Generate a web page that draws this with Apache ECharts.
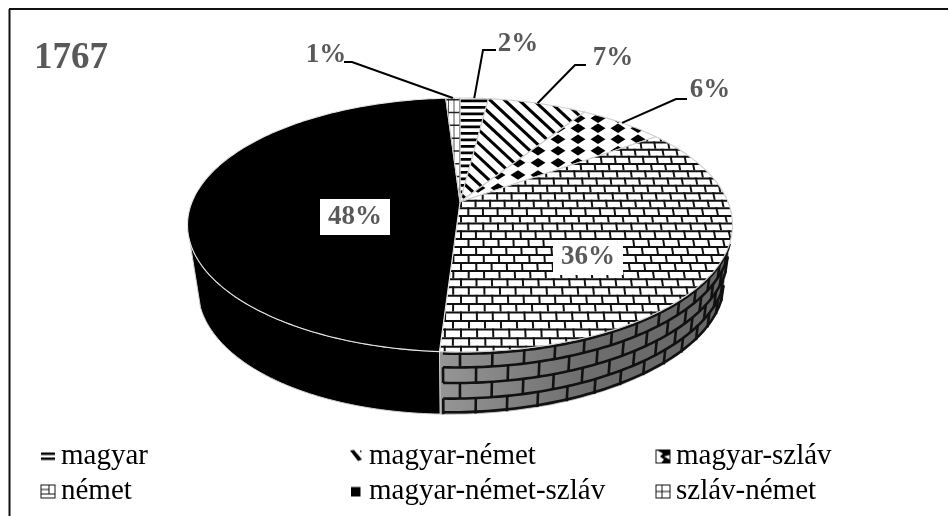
<!DOCTYPE html>
<html><head><meta charset="utf-8">
<style>html,body{margin:0;padding:0;background:#fff}#c{width:949px;height:516px}</style>
<script src="https://cdn.jsdelivr.net/npm/echarts@6/dist/echarts.min.js"></script>
</head><body><div id="c"></div>
<script>
const year = '1767';
const categories = ['magyar','magyar-német','magyar-szláv','német','magyar-német-szláv','szláv-német'];
const values = [2,7,6,36,48,1];
const patterns = ['bars','stripes','diamonds','bricks','solid','grid'];

// Layout only (no data)
const TOP = {cx:460, cy:202, A:268, B:122.8, skew:0, turn:0};
const BASE = {cx:461, cy:263, A:258.6, B:123.8, skew:11, turn:-1.8};
const P = 0.181;
const SIDE_RANGE = [108,252];
const leaders = [
  {elbow:[483,50], end:[496,50], text:[518,44]},
  {elbow:[575,65], end:[586,65], text:[613,58]},
  {elbow:[676,99], end:[687,99], text:[710,90]},
  null,
  null,
  {elbow:[352,62], end:[344,62], text:[326,55]}
];
const boxes = {3:[553,240,70,35], 4:[320,199,70,36]};
const legendPos = [[40,0],[348,0],[655,0],[40,1],[348,1],[655,1]];
const LABEL_FONT = 'bold 27px "Liberation Serif"';
const GREY = '#595959';

const total = values.reduce((a,b)=>a+b,0);
const cum = [0]; values.forEach((v,i)=>cum.push(cum[i]+v));
const ang = i => cum[i]/total*360;

function proj(s,deg){
  const r=(deg+s.turn)*Math.PI/180,u=Math.sin(r),v=-Math.cos(r),w=1-P*v;
  const sh=v>0?s.skew*v*v:0;
  return [s.cx+s.A*u/w-sh, s.cy+s.B*v/w];
}
function arc(s,a0,a1){
  const pts=[],n=Math.max(2,Math.ceil((a1-a0)));
  for(let k=0;k<=n;k++) pts.push(proj(s,a0+(a1-a0)*k/n));
  return pts;
}
const quad=(pts,fill)=>({type:'polygon',shape:{points:pts},style:{fill:fill||'#000'}});
const bar=(x,y,w,h,fill)=>({type:'rect',shape:{x,y,width:w,height:h},style:{fill:fill||'#000'}});

function texBricks(){
  const out=[],xc=460;let y=100.5,r=0;
  const wid=y=>13.3+(y-100)*0.012;
  while(y<356){
    const nx=y+6.7+(y-100)*0.0085;
    out.push(bar(430,y,320,2,'#111'));
    const off=r%2?0.5:0;
    for(let i=-2;i<24;i++){
      const x0=xc+(i+off)*wid(y),x1=xc+(i+off)*wid(nx);
      out.push(quad([[x0,y],[x0+2,y],[x1+2,nx],[x1,nx]],'#111'));
    }
    y=nx;r++;
  }
  return out;
}
function texBars(){
  const out=[];
  for(let y=99.5;y<206;y+=6.5) out.push(bar(450,y,50,2.8));
  return out;
}
function texStripes(){
  const out=[],s=0.93,th=4.2;
  for(let k=-12;k<8;k++){
    const x=488+k*14.5,y0=96,y1=210;
    const a=x,b=x+(y1-y0)/s;
    out.push(quad([[a,y0],[b,y1],[b,y1+th],[a,y0+th]]));
  }
  return out;
}
function texDiamonds(){
  const out=[];const ys=[118.3,128.3,139.3,150.7,162.7,175,188,201];
  ys.forEach(y=>{
    for(let i=-7;i<5;i++){
      const x=598+i*20,hw=7.5,hh=4.8;
      out.push(quad([[x-hw,y],[x,y-hh],[x+hw,y],[x,y+hh]]));
    }
  });
  return out;
}
function texGrid(){
  const out=[];
  [448,453.5,459].forEach(x=>out.push(bar(x,95,1,115,'#555')));
  for(let y=99;y<206;y+=12.8) out.push(bar(440,y,25,1.5,'#222'));
  return out;
}
const tex={bricks:texBricks,bars:texBars,stripes:texStripes,diamonds:texDiamonds,grid:texGrid,solid:()=>[]};

function sideOf(i){
  const a0=Math.max(ang(i),SIDE_RANGE[0]),a1=Math.min(ang(i+1),SIDE_RANGE[1]);
  if(a1<=a0) return [];
  const up=arc(TOP,a0,a1),lo=arc(BASE,a0,a1).reverse();
  const kids=[];
  if(patterns[i]==='solid'){
    kids.push({type:'polygon',shape:{points:up.concat(lo)},style:{fill:'#000',stroke:'#cfcfcf',lineWidth:1}});
    return kids;
  }
  kids.push({type:'polygon',shape:{points:up.concat(lo)},style:{
    fill:{type:'linear',x:0,y:0,x2:1,y2:0,colorStops:[{offset:0,color:'#969696'},{offset:0.5,color:'#6e6e6e'},{offset:1,color:'#666'}]},stroke:'#bbb',lineWidth:1}});
  const mix=(a,t)=>{const p=proj(TOP,a),q=proj(BASE,a);return [p[0]+(q[0]-p[0])*t,p[1]+(q[1]-p[1])*t];};
  const rows=4,step=5.7,line={stroke:'#111',lineWidth:2.6,fill:null};
  for(let r=0;r<=rows;r++){
    const pts=[];
    for(let a=a0;a<=a1+0.01;a+=1) pts.push(mix(Math.min(a,a1),Math.min(0.97,Math.max(0.03,r/rows))));
    kids.push({type:'polyline',shape:{points:pts},style:line});
  }
  for(let r=0;r<rows;r++){
    for(let a=180-(r%2?step/2:0);a>a0;a-=step){
      kids.push({type:'polyline',shape:{points:[mix(a,r/rows),mix(a,(r+1)/rows)]},style:line});
    }
    if(r%2===1) kids.push({type:'polyline',shape:{points:[mix(183,r/rows),mix(183,(r+1)/rows)]},style:line});
  }
  return kids;
}
function topOf(i){
  const a0=ang(i),a1=ang(i+1);
  const pts=[[TOP.cx,TOP.cy]].concat(arc(TOP,a0,a1));
  const solid=patterns[i]==='solid';
  return [
    {type:'polygon',shape:{points:pts},style:{fill:solid?'#000':'#fff'}},
    {type:'group',clipPath:{type:'polygon',shape:{points:pts}},children:tex[patterns[i]]()},
    {type:'polygon',shape:{points:pts},style:{fill:'none',stroke:solid?'#e6e6e6':'#cfcfcf',lineWidth:1.1}}
  ];
}
function labelOf(i,val){
  const out=[],txt=val+'%';
  const L=leaders[i];
  if(L){
    const a=(ang(i)+ang(i+1))/2;
    out.push({type:'polyline',shape:{points:[proj(TOP,a),L.elbow,L.end]},style:{stroke:'#000',lineWidth:2,fill:null}});
    out.push({type:'text',style:{text:txt,x:L.text[0],y:L.text[1],font:LABEL_FONT,fill:GREY,align:'center',verticalAlign:'middle'}});
  }
  const B=boxes[i];
  if(B){
    out.push(bar(B[0],B[1],B[2],B[3],'#fff'));
    out.push({type:'text',style:{text:txt,x:B[0]+B[2]/2,y:B[1]+B[3]/2,font:LABEL_FONT,fill:GREY,align:'center',verticalAlign:'middle'}});
  }
  return out;
}

function icon(kind){
  const c=document.createElement('canvas');c.width=c.height=32;
  const g=c.getContext('2d');g.fillStyle='#000';g.strokeStyle='#111';g.lineWidth=2;
  if(kind==='bars'){g.fillRect(2,8,28,5);g.fillRect(2,18,28,5);}
  if(kind==='stripes'){g.beginPath();g.moveTo(4,4);g.lineTo(12,3);g.lineTo(28,22);g.lineTo(20,25);g.closePath();g.fill();g.fillRect(24,4,3,3);}
  if(kind==='diamonds'){g.strokeRect(2,3,28,26);g.beginPath();g.moveTo(3,3);g.lineTo(29,3);g.lineTo(29,13);g.lineTo(18,16);g.lineTo(29,22);g.lineTo(29,29);g.lineTo(12,29);g.lineTo(18,22);g.lineTo(10,16);g.lineTo(16,10);g.closePath();g.fill();}
  if(kind==='bricks'){g.strokeRect(2,3,28,26);g.beginPath();g.moveTo(2,12);g.lineTo(18,12);g.moveTo(18,3);g.lineTo(18,21);g.moveTo(2,21);g.lineTo(30,21);g.stroke();}
  if(kind==='solid'){g.fillRect(6,7,19,19);}
  if(kind==='grid'){g.strokeRect(2,3,28,26);g.beginPath();g.moveTo(14,3);g.lineTo(14,29);g.moveTo(2,16);g.lineTo(30,16);g.stroke();}
  return 'image://'+c.toDataURL();
}

const chart=echarts.init(document.getElementById('c'),null,{renderer:'canvas'});
chart.setOption({
  animation:false,
  backgroundColor:'#fff',
  title:{text:year,left:34,top:40,padding:0,textStyle:{fontFamily:'Liberation Serif',fontWeight:'bold',fontSize:37,color:GREY}},
  legend:categories.map((name,i)=>({
    data:[name],left:legendPos[i][0],top:442+legendPos[i][1]*35,padding:0,
    selectedMode:false,itemWidth:16,itemHeight:16,icon:icon(patterns[i]),
    textStyle:{fontFamily:'Liberation Serif',fontSize:29,color:'#000'}
  })),
  graphic:[
    {type:'line',shape:{x1:9.5,y1:9,x2:9.5,y2:516},style:{stroke:'#111',lineWidth:2}},
    {type:'line',shape:{x1:9,y1:9,x2:948,y2:9},style:{stroke:'#111',lineWidth:2}}
  ],
  series:categories.map((name,i)=>({
    type:'custom',name,coordinateSystem:'none',data:[[values[i]]],silent:true,
    renderItem:(params,api)=>({type:'group',children:[...sideOf(i),...topOf(i),...labelOf(i,api.value(0))]})
  }))
});
</script></body></html>
